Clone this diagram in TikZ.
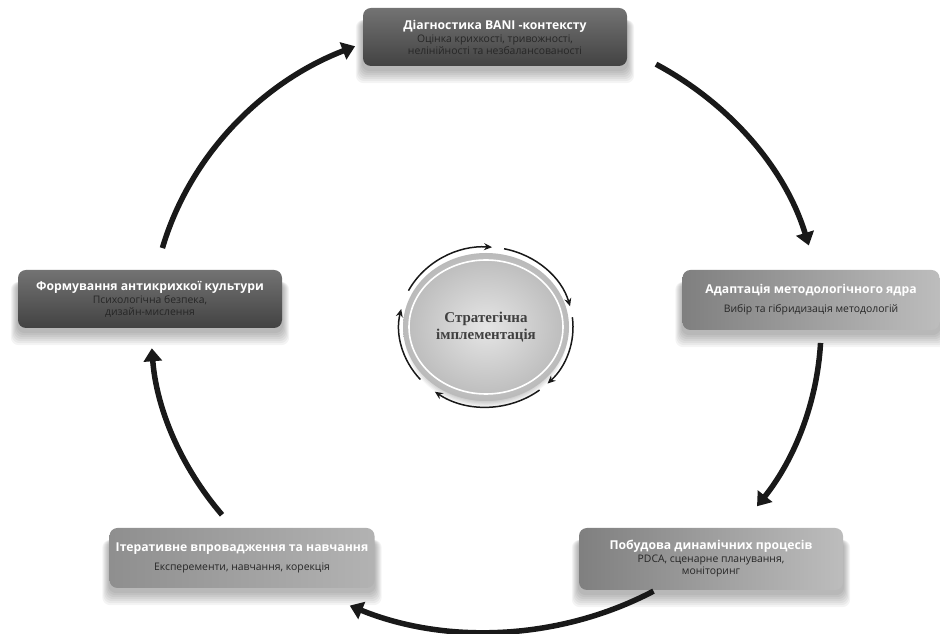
\documentclass[tikz,border=0pt]{standalone}
\usepackage{fontspec}
\setmainfont{Liberation Serif}
\setsansfont{Open Sans}
\usetikzlibrary{shapes.geometric,backgrounds,arrows.meta}
\newcommand{\stagetitle}[1]{\textcolor{white}{\fontsize{12.2}{15}\selectfont\bfseries #1}}
\newcommand{\stagenote}[1]{{\fontsize{10.4}{13}\selectfont\color{black!85}#1}}

\begin{document}
\begin{tikzpicture}[x=1pt,y=1pt,
    stage/.style={rounded corners=8pt,minimum width=264,minimum height=58,align=center,inner sep=2pt,font=\sffamily},
    darkstage/.style={stage,top color=black!55,bottom color=black!74},
    greystage/.style={stage,left color=black!50,right color=black!26},
    bigarrow/.style={black!90,line width=5.5pt,-{Triangle[width=18pt,length=13pt]}},
    ringarrow/.style={black!90,line width=1.5pt,-{Stealth[width=7pt,length=8pt]}}]
      \useasboundingbox (0,0) rectangle (940,634);
      % stages of the cycle
      \node [darkstage] (diag) at (495,597) {\stagetitle{Діагностика BANI -контексту}\\[1pt]
        \stagenote{Оцінка крихкості, тривожності,}\\\stagenote{нелінійності та незбалансованості}};
      \node [greystage,minimum width=257,minimum height=60] (adapt) at (811,334) {\stagetitle{Адаптація методологічного ядра}\\[7pt]
        \stagenote{Вибір та гібридизація методологій}};
      \node [greystage,minimum height=62] (build) at (711,75) {\stagetitle{Побудова динамічних процесів}\\[1pt]
        \stagenote{PDCA, сценарне планування,}\\\stagenote{моніторинг}};
      \node [greystage,left color=black!44,right color=black!30,minimum width=265,minimum height=60] (iter) at (242,76) {\stagetitle{Ітеративне впровадження та навчання}\\[7pt]
        \stagenote{Експеременти, навчання, корекція}};
      \node [darkstage] (form) at (150,335) {\stagetitle{Формування антикрихкої культури}\\[1pt]
        \stagenote{Психологічна безпека,}\\\stagenote{дизайн-мислення}};
      % centre
      \node [ellipse,minimum width=166,minimum height=148,inner color=black!10,outer color=black!27,
        align=center,font=\fontsize{15}{17}\selectfont\bfseries,text=black!75] (hub) at (486,307) {Стратегічна\\імплементація};
      \draw [white,line width=1.6pt] (hub.center) ellipse [x radius=77,y radius=67];
      \foreach \s/\e in {221/167,153/86,78/15,7/-45,-52/-126}
        \draw [ringarrow] (hub.center) ++(\s:87 and 80) arc [start angle=\s,end angle=\e,x radius=87,y radius=80];
      \foreach \s/\e in {59.5/15.5,-3/-36,-60/-114,-142/-176,165/113}
        \draw [bigarrow] (hub.center) ++(\s:335 and 305) arc [start angle=\s,end angle=\e,x radius=335,y radius=305];
      % soft shadows
      \begin{pgfonlayer}{background}
        \fill [white] (0,0) rectangle (940,634);
        \foreach \n in {diag,adapt,build,iter,form}
          \foreach \k in {1,...,7}
            \fill [black,opacity=0.045,rounded corners=8pt] ([xshift=-\k*1pt,yshift=-3pt-\k*2pt]\n.south west) rectangle ([xshift=\k*1pt,yshift=-12pt]\n.north east);
        \foreach \k in {1,...,6}
          \fill [black,opacity=0.04] ([yshift=-9pt]hub.center) ellipse [x radius=74+\k*1.2,y radius=64+\k*1.2];
      \end{pgfonlayer}
\end{tikzpicture}
\end{document}
